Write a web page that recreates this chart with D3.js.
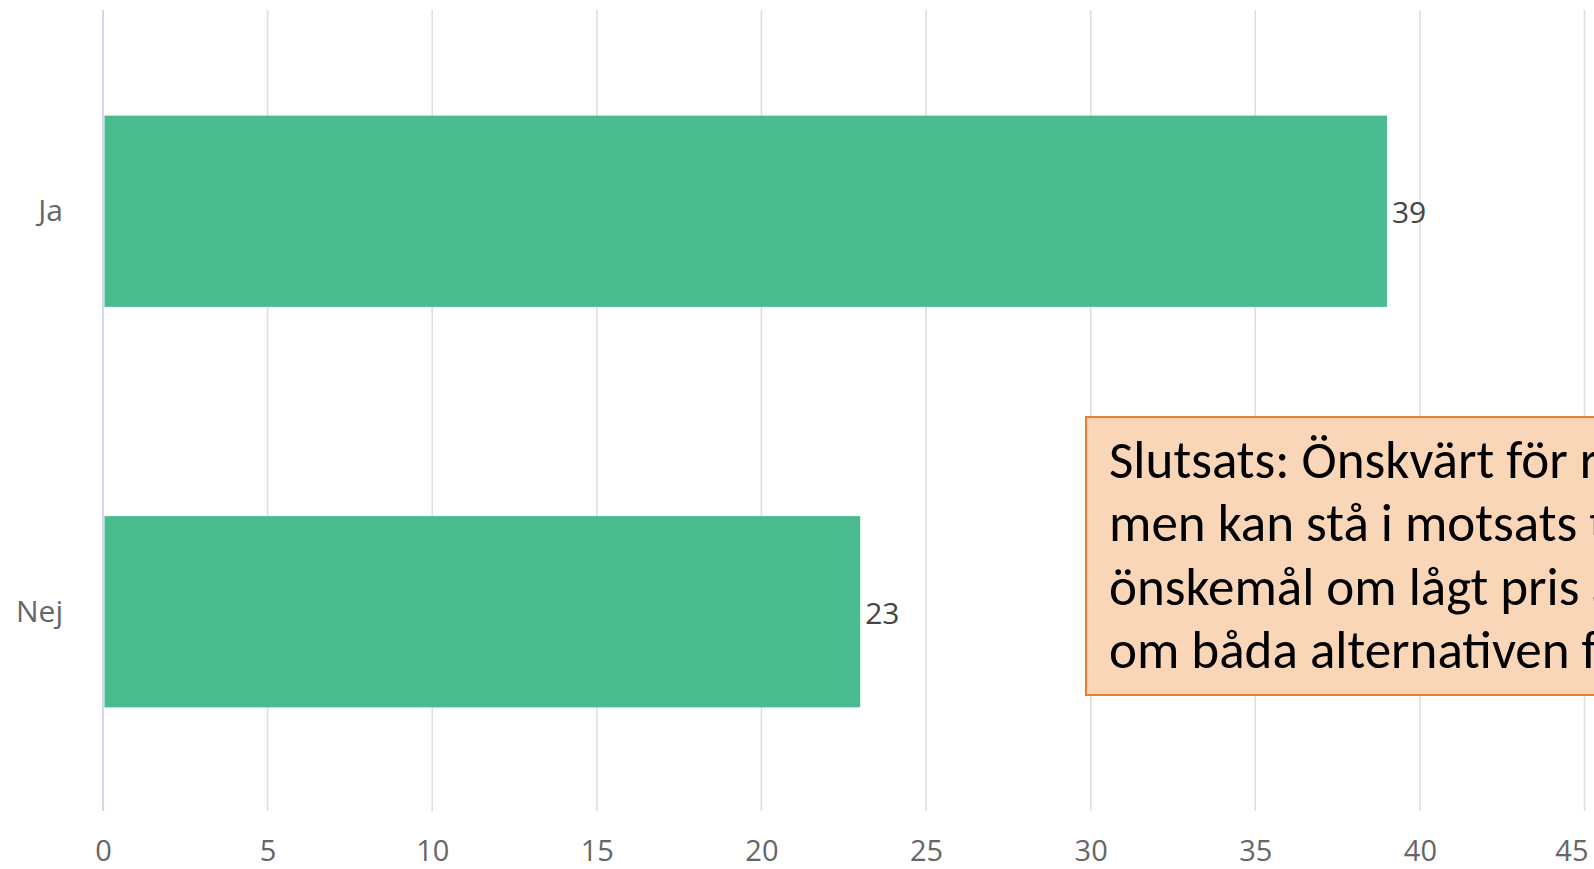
<!DOCTYPE html>
<html>
<head>
<meta charset="utf-8">
<script src="https://cdn.jsdelivr.net/npm/d3@7"></script>
<style>
  html, body { margin: 0; padding: 0; background: #fff; overflow: hidden; }
  svg { display: block; }
</style>
</head>
<body>
<svg id="chart" width="1594" height="869"></svg>
<script>
const categories = ["Ja", "Nej"];
const values = [39, 23];
const tickValues = [0, 5, 10, 15, 20, 25, 30, 35, 40, 45];
const noteLines = [
  "Slutsats: Önskvärt för respondenterna,",
  "men kan stå i motsats till andra",
  "önskemål om lågt pris även",
  "om båda alternativen finns"
];
const noteMeasure = "Slutsats: Önskvärt för";

const svg = d3.select("#chart");
const W = 1594, H = 869;
const plot = { left: 103, right: 1584.5, top: 10, bottom: 811 };

const x = d3.scaleLinear().domain([0, 45]).range([plot.left, plot.right]);
const y = d3.scaleBand().domain(categories).range([plot.top, plot.bottom])
  .paddingInner(0.52).paddingOuter(0.26);

// gridlines
svg.append("g").selectAll("line").data(tickValues.filter(d => d > 0)).join("line")
  .attr("x1", d => x(d)).attr("x2", d => x(d))
  .attr("y1", plot.top).attr("y2", plot.bottom)
  .attr("stroke", "#dedede").attr("stroke-width", 1.6);

// category axis line
svg.append("line")
  .attr("x1", x(0)).attr("x2", x(0)).attr("y1", plot.top).attr("y2", plot.bottom)
  .attr("stroke", "#ccd6eb").attr("stroke-width", 1.8);

// bottom axis labels
const xAxis = d3.axisBottom(x).tickValues(tickValues).tickSize(0).tickPadding(0);
const gx = svg.append("g").attr("transform", `translate(0, ${plot.bottom})`).call(xAxis);
gx.select(".domain").remove();
gx.selectAll("text")
  .attr("dy", null).attr("y", 50)
  .attr("font-family", "'Open Sans', sans-serif").attr("font-size", 29)
  .attr("fill", "#666");
// keep the last label inside the chart (justified like the original)
gx.selectAll(".tick").filter(d => d === 45).select("text")
  .attr("text-anchor", "end").attr("x", 1588 - x(45));

// left axis labels
const yAxis = d3.axisLeft(y).tickSize(0).tickPadding(0);
const gy = svg.append("g").attr("transform", `translate(63, 0)`).call(yAxis);
gy.select(".domain").remove();
gy.selectAll("text")
  .attr("dy", null).attr("y", 11)
  .attr("font-family", "'Open Sans', sans-serif").attr("font-size", 30)
  .attr("fill", "#666");

// bars
const data = categories.map((c, i) => ({ c, v: values[i] }));
svg.append("g").selectAll("rect").data(data).join("rect")
  .attr("x", x(0) + 1.5)
  .attr("y", d => y(d.c) + 1.5)
  .attr("width", d => x(d.v) - x(0) - 1.5)
  .attr("height", y.bandwidth() - 1)
  .attr("fill", "#49bb8f");

// data labels
svg.append("g").selectAll("text").data(data).join("text")
  .attr("x", d => x(d.v) + 5)
  .attr("y", d => y(d.c) + y.bandwidth() / 2 + 13)
  .attr("font-family", "'Open Sans', sans-serif").attr("font-size", 30)
  .attr("fill", "#444")
  .text(d => d.v);

// annotation box
const note = svg.append("g");
note.append("rect")
  .attr("x", 1086).attr("y", 417).attr("width", 700).attr("height", 278)
  .attr("fill", "#fad6b8").attr("stroke", "#ed7d31").attr("stroke-width", 2);

const fontFam = "Carlito, Lato, 'Open Sans', sans-serif";
const probe = svg.append("text").attr("font-family", fontFam).attr("font-size", 50)
  .attr("x", -1000).text(noteMeasure);
const pw = probe.node().getComputedTextLength();
probe.remove();
const fs = 50 * 459 / pw;

note.selectAll("text.note").data(noteLines).join("text")
  .attr("class", "note")
  .attr("x", 1109)
  .attr("y", (d, i) => 478 + i * 63.4)
  .attr("font-family", fontFam).attr("font-size", fs)
  .attr("fill", "#000")
  .text(d => d);
</script>
</body>
</html>
